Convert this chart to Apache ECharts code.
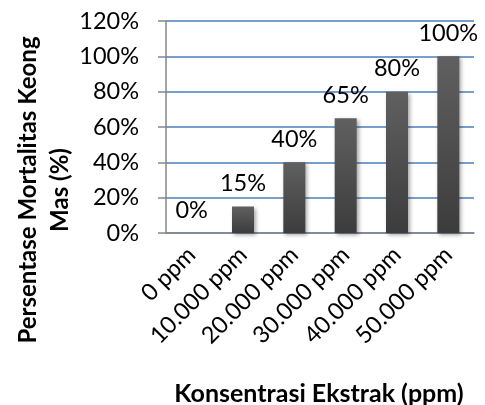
<!DOCTYPE html>
<html><head><meta charset="utf-8">
<script src="https://cdn.jsdelivr.net/npm/echarts@6/dist/echarts.min.js"></script>
<style>html,body{margin:0;padding:0;background:#fff}#c{width:485px;height:405px}</style>
</head><body><div id="c"></div>
<script>
var categories = ['0 ppm','10.000 ppm','20.000 ppm','30.000 ppm','40.000 ppm','50.000 ppm'];
var mortality = [0, 15, 40, 65, 80, 100];
var yTitle = 'Persentase Mortalitas Keong\nMas (%)';
var xTitle = 'Konsentrasi Ekstrak (ppm)';
var FONT = 'Lato';
var chart = echarts.init(document.getElementById('c'));
chart.setOption({
  animation: false,
  grid: {left: 166, right: 11, top: 21, bottom: 172},
  xAxis: {
    type: 'category', data: categories,
    axisLine: {lineStyle: {color: '#868686', width: 1.5}},
    axisTick: {show: false},
    axisLabel: {rotate: 45, color: '#000', fontFamily: FONT, fontSize: 23.5, margin: 18, interval: 0}
  },
  yAxis: {
    type: 'value', min: 0, max: 120, interval: 20,
    axisLine: {show: true, lineStyle: {color: '#868686', width: 1.5}},
    axisTick: {show: true, length: 8, lineStyle: {color: '#868686', width: 1.5}},
    axisLabel: {formatter: '{value}%', color: '#000', fontFamily: FONT, fontSize: 23.5, margin: 27},
    splitLine: {lineStyle: {color: '#4a7ebb', width: 1.5}}
  },
  graphic: [
    {type: 'text', x: 44, y: 190, rotation: Math.PI/2, style: {text: yTitle, fill: '#000', font: 'bold 24px ' + FONT, textAlign: 'center', textVerticalAlign: 'middle', lineHeight: 32}},
    {type: 'text', x: 319, y: 394, style: {text: xTitle, fill: '#000', font: 'bold 25px ' + FONT, textAlign: 'center', textVerticalAlign: 'middle'}}
  ],
  series: [{
    type: 'bar', data: mortality, barWidth: 22,
    itemStyle: {
      color: new echarts.graphic.LinearGradient(0,0,0,1,[{offset:0,color:'#606060'},{offset:1,color:'#3c3c3c'}]),
      shadowColor: 'rgba(0,0,0,0.35)', shadowBlur: 4, shadowOffsetX: 2, shadowOffsetY: 2
    },
    label: {show: true, position: 'top', distance: 11, formatter: '{c}%', color: '#000', fontFamily: FONT, fontSize: 23.5}
  }]
});
</script></body></html>
